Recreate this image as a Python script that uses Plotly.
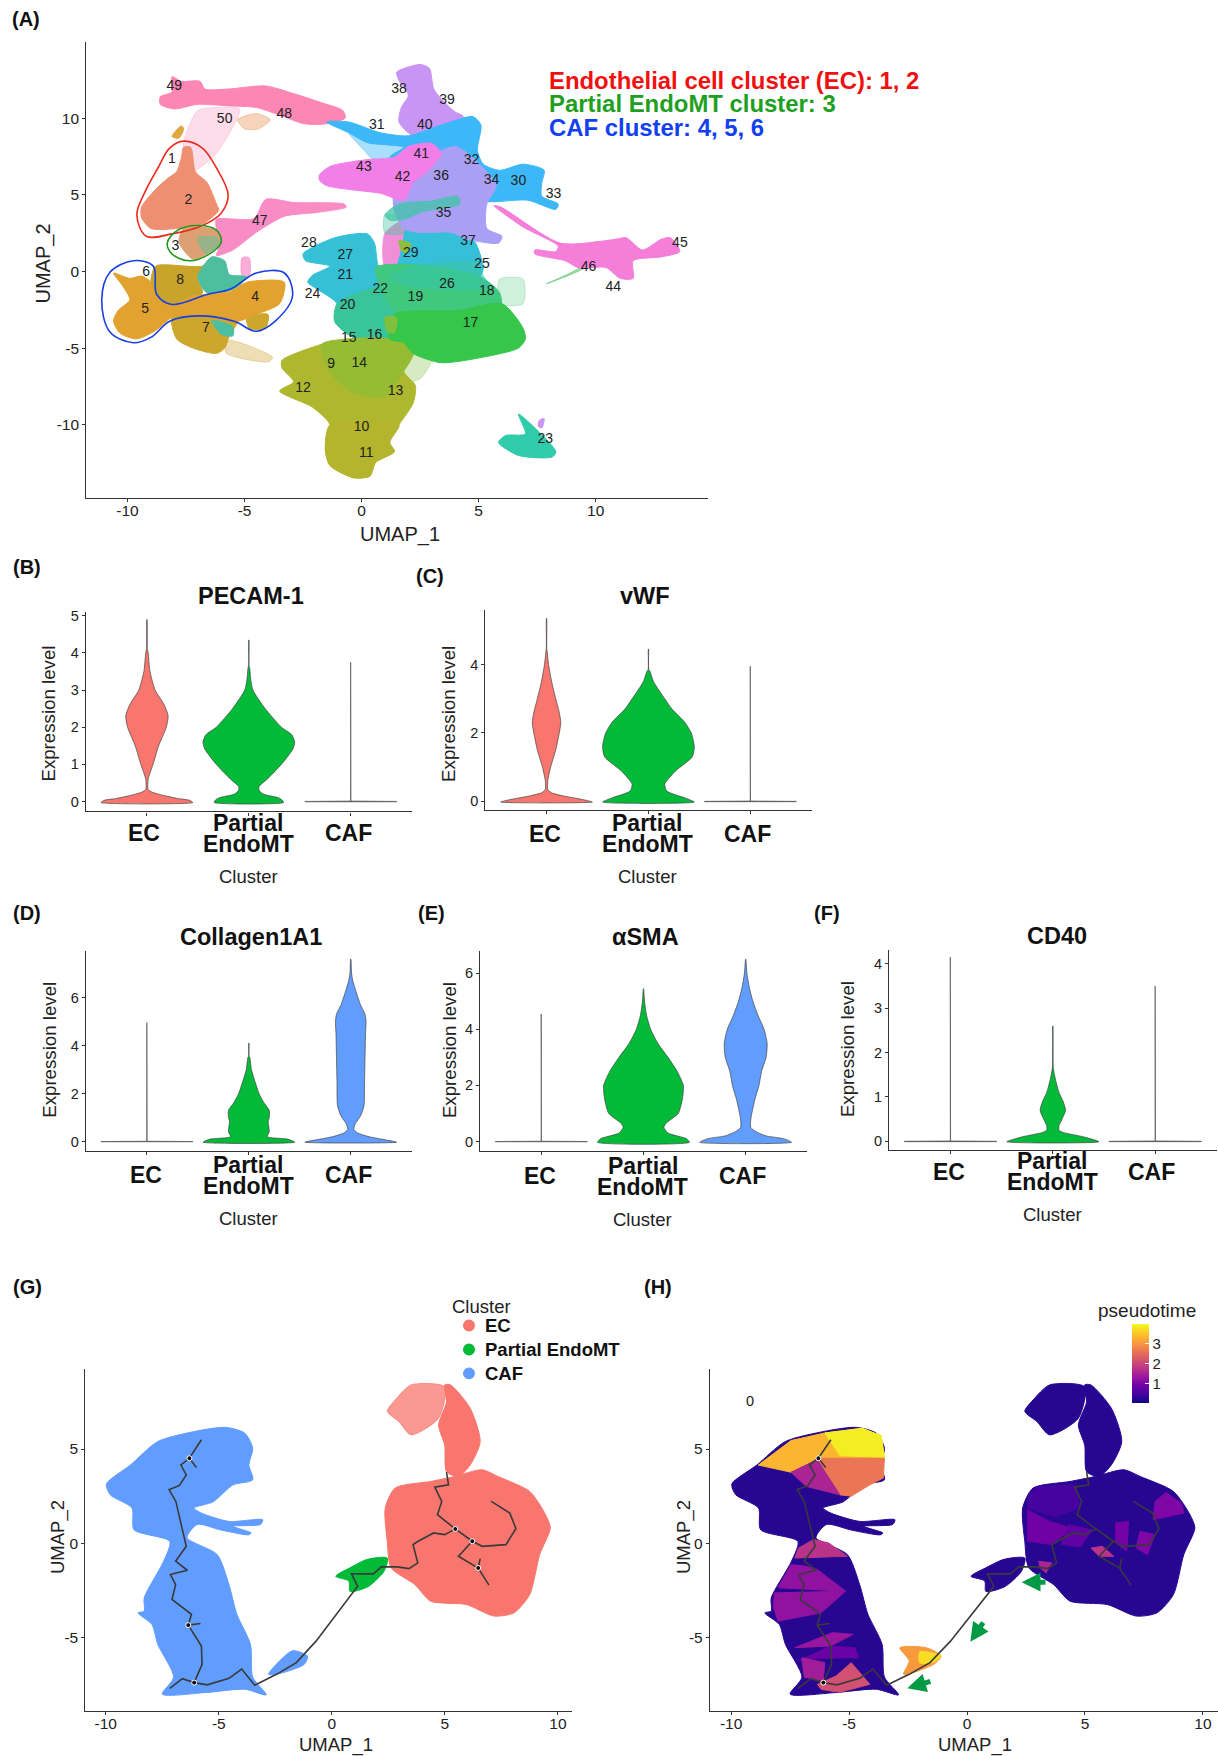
import plotly.graph_objects as go
from plotly.colors import sample_colorscale

W, H = 1218, 1756
FONT = "Liberation Sans"
DY = -2.5

# ---------- Panel A: cluster outlines in UMAP units ----------
a_pink_haze = [(-7.6,8.4),(-7.0,10.5),(-6,10.7),(-5.2,10.6),(-6.2,7.7),(-7.2,6.5),(-7.5,6.5)]
a_gold_haze = [(-5.3,9.9),(-4.5,10.3),(-3.9,9.9),(-4.4,9.3),(-5,9.3)]
a_gold_spot = [(-8.1,8.8),(-7.7,9.5),(-7.6,9.3),(-7.8,8.7)]
a_pink_top = [(-8.1,12.7),(-7.7,12.4),(-6.9,12.4),(-6.7,11.9),(-5.7,11.9),(-4.1,12.1),(-2.9,11.6),(-1.7,11.0),(-0.8,10.5),(-0.7,10.0),(-1.7,9.6),(-2.5,9.65),(-3.5,10.2),(-4.5,10.7),(-5.65,10.8),(-7.0,10.9),(-8.0,10.6),(-8.6,10.9),(-8.6,11.4),(-8.1,11.7)]
a_salmon = [(-7.6,8.1),(-7.3,8.1),(-7.1,6.5),(-6.6,5.8),(-6.2,4.4),(-6.1,4.0),(-6.8,3.1),(-7.9,2.8),(-9.0,2.8),(-9.4,3.5),(-9.4,4.2),(-8.8,5.35),(-8.3,6.05),(-7.9,6.5),(-7.7,7.4)]
a_pink47 = [(-6.2,3.4),(-4.6,3.45),(-4.1,4.7),(-2.9,4.5),(-0.75,4.4),(-0.65,4.2),(-1.9,3.85),(-3.3,3.6),(-4.5,2.55),(-5.5,1.4),(-6.2,1.05),(-6.0,1.9),(-6.2,2.8)]
a_pink47_tail = [(-5.1,0.9),(-4.8,0.9),(-4.8,-0.3),(-5.1,-0.3)]
a_c3 = [(-7.6,2.8),(-6.2,2.7),(-6.0,1.9),(-6.6,1.15),(-7.2,0.8),(-7.8,1.9)]
a_c3_teal = [(-7,2.2),(-6.15,2.2),(-6.1,1.7),(-6.7,1.2)]
a_c8 = [(-8.8,0.35),(-6.8,0.35),(-6.4,0.9),(-7,-0.45),(-6.8,-1.4),(-8.2,-2.2),(-8.8,-1.6),(-9,-0.7)]
a_c8_teal = [(-7,-0.35),(-6.4,0.95),(-5.85,0.7),(-5.65,-0.2),(-4.9,-0.35),(-5.45,-1.15),(-6.6,-1.4)]
a_c7 = [(-8.1,-3.0),(-6.8,-2.8),(-5.3,-3.2),(-5.65,-4.2),(-5.85,-5),(-6.2,-5.35),(-7.2,-5),(-7.9,-4.4)]
a_c7_teal = [(-6.4,-3.2),(-5.5,-3.6),(-5.5,-4.2),(-6.0,-4.1)]
a_c7_spot = [(-4.9,-3.0),(-4.0,-2.8),(-4.1,-3.7),(-4.8,-3.7)]
a_c7_haze = [(-5.7,-4.5),(-3.8,-5.6),(-4,-5.9),(-5.8,-5.3)]
a_c54 = [(-10.6,-0.1),(-9.9,-0.45),(-9.4,-0.3),(-9.0,-0.7),(-8.8,-1.6),(-8.2,-2.2),(-7.2,-1.6),(-5.6,-1.3),(-4.9,-0.7),(-3.3,-0.7),(-3.5,-2.1),(-4.5,-2.8),(-5.3,-3.25),(-6.8,-2.9),(-8,-2.9),(-8.8,-3.85),(-9.6,-4.4),(-10.3,-4.05),(-10.6,-3.25),(-10.4,-2.55),(-9.9,-1.85),(-10.2,-0.95)]
a_blue_haze = [(-0.55,9.05),(0.25,8.5),(1.8,8.1),(1.2,7.4),(0.6,7.2),(0.05,8.0)]
a_blue = [(-1.5,9.75),(-0.55,9.75),(0.8,9.05),(2,8.85),(3.4,9.55),(4.75,10.1),(5.1,9.55),(4.95,7.9),(5.2,7),(5.9,6.6),(6.9,7),(7.8,6.6),(7.7,5.8),(7.7,4.9),(8.4,4.4),(8.3,4.05),(7.1,4.65),(5.7,4.55),(4.15,4.55),(2.2,4.9),(1.2,5.8),(1.2,7.45),(1.8,8.1),(0.25,8.4),(-0.55,9.05)]
a_purple_top = [(1.5,13),(2.5,13.5),(2.9,13.25),(3.1,11.85),(3.95,10.45),(4.35,10.1),(3.4,8.95),(2.2,8.85),(1.6,9.75),(1.7,10.7),(2,11.5),(1.6,12.45)]
a_magenta = [(-1.8,6.3),(-1.35,6.85),(0.25,7.3),(1.4,7.45),(2,8.15),(3,8.35),(3.4,7.7),(2.8,6.5),(2.2,5.8),(1.8,4.65),(0.8,5.1),(-0.55,5.35),(-1.5,5.6),(-1.8,5.95)]
a_lavender = [(2.4,7),(4,8.15),(5.2,6.75),(5.75,5.6),(5.35,4.4),(5.35,2.8),(6,2.3),(5.85,1.85),(4.55,2.1),(3.8,2.55),(2.4,2.55),(1.8,2.8),(1.4,3.95),(1.4,5.35)]
a_teal35 = [(1,3.7),(1.6,4.4),(3,4.6),(4.1,4.9),(4.2,4.4),(2.6,3.9),(1.8,3.4),(1.2,3.35)]
a_teal_gap = [(1,3.7),(1.8,3.4),(1.8,2.5),(1,2.5)]
a_pink45 = [(5.65,4.3),(5.95,4.2),(8.5,1.85),(10.85,2.1),(11.3,2.2),(12,1.4),(12.8,2.1),(13.2,2.2),(13.6,1.3),(12.8,0.95),(11.6,0.7),(11.6,-0.45),(11.05,-0.45),(10.45,0.25),(9.25,0.25),(8.7,0.7),(7.4,1.15),(7.4,1.4),(8.3,1.3),(8.4,1.65),(6.9,2.9)]
a_green_thin = [(7.9,-0.8),(9.9,0.55),(10.3,1.9),(9.9,1.9),(9.4,0.35)]
a_cyan29 = [(1.4,2.55),(3.8,2.55),(4.8,2.0),(5.2,0.2),(5.05,-0.45),(4.95,-1.6),(2.2,-0.45),(1.6,0.1),(1.5,1.0)]
a_pink29 = [(1,2.5),(1.9,3.4),(1.8,2.5),(1.4,0.2),(1,0.2)]
a_olive29 = [(1.6,2),(2.1,1.8),(1.9,1.2),(1.7,1.4)]
a_cyan27 = [(-2.5,1.15),(-1.15,2.2),(0.25,2.45),(0.55,1.85),(0.75,0.25),(1.2,0.2),(1.2,-0.95),(0.8,-2.55),(1,-4.4),(-0.35,-4.3),(-1.15,-3.25),(-1.05,-2.1),(-1.9,-1.15),(-2.3,-0.7),(-2.1,-0.25),(-1.35,0.35),(-2.4,0.7)]
a_teal20 = [(-1.05,-2.1),(0.0,-1.3),(1.2,-0.95),(2.2,-2.1),(1.4,-4.4),(-0.35,-4.3),(-1.15,-3.25)]
a_green19 = [(0.6,0.25),(2.2,0.45),(4.95,-0.25),(5.9,-1.4),(5.9,-2.8),(1.6,-2.8),(1,-1.6)]
a_teal_band = [(1.2,-0.4),(2.2,0.3),(4.9,0.6),(5.2,-0.3),(5.5,-1.0),(2.2,-1.0)]
a_green_haze = [(5.9,-0.5),(6.9,-0.5),(6.9,-2.1),(5.9,-2.1)]
a_green_haze2 = [(2.2,-5.3),(3,-5.7),(2.5,-7),(1.8,-7.2),(1.8,-6)]
a_green17 = [(1.4,-2.8),(4.15,-2.55),(6,-2.1),(6.9,-3.7),(7,-4.4),(6.7,-5),(5.15,-5.6),(3.4,-5.95),(2.2,-5.35),(1.8,-4.65),(1.2,-4.4)]
a_olive17 = [(1,-3),(1.5,-3),(1.4,-4),(1.1,-3.9)]
a_olive = [(-3.4,-5.8),(-1.7,-4.75),(-0.55,-4.4),(1.6,-4.5),(2.2,-5.35),(1.8,-6.5),(2.3,-7.45),(2.2,-8.6),(1.6,-10),(1.2,-11.15),(1.4,-11.75),(0.6,-12.45),(0.35,-13.35),(-0.35,-13.45),(-1.35,-12.65),(-1.55,-11.6),(-1.35,-10),(-2.1,-8.85),(-3.5,-7.8),(-2.9,-7.2),(-3.4,-6.3)]
a_olive_up = [(-1.7,-4.75),(-0.55,-4.4),(1.6,-4.5),(2.2,-5.35),(1.8,-6.5),(1,-8.15),(-0.35,-7.9),(-1.4,-6.5)]
a_olive_low = [(-1.35,-10),(1.6,-10),(1.2,-11.15),(1.4,-11.75),(0.6,-12.45),(0.35,-13.35),(-0.35,-13.45),(-1.35,-12.65),(-1.55,-11.6)]
a_teal23 = [(6.7,-9.3),(7.5,-10.35),(8.3,-11.75),(8.15,-12.1),(6.7,-12),(5.85,-11.15),(6.15,-10.7),(7,-10.6)]
a_purple23 = [(7.6,-9.7),(7.8,-9.6),(7.7,-10.2),(7.55,-10.1)]

a_red_ring = [(-7.6,8.5),(-6.8,8.05),(-6.2,6.75),(-5.7,5),(-6,3.8),(-6.8,3),(-8.1,2.45),(-9.2,2.3),(-9.6,3.7),(-9.2,5.35),(-8.7,6.75),(-8.2,8.05),(-7.6,8.5)]
a_green_ring = [(-7,3),(-6.2,2.7),(-6,1.9),(-6.6,1.05),(-7.4,0.7),(-8.1,1.15),(-8.3,1.85),(-7.9,2.65),(-7,3)]
a_blue_ring = [(-9.75,0.7),(-8.9,0.35),(-8.75,-1.5),(-8.1,-2.15),(-6.6,-1.5),(-5.6,-1.15),(-4.5,-0.1),(-3.3,-0.1),(-2.95,-1.6),(-3.7,-3.25),(-4.5,-3.9),(-5.45,-3.25),(-7,-2.9),(-8.2,-3.25),(-9,-4.3),(-9.75,-4.65),(-10.75,-3.95),(-11.1,-1.85),(-10.75,-0.05),(-9.75,0.7)]

cluster_ids = [49,50,48,1,2,3,6,8,5,4,7,47,43,41,42,36,32,34,30,33,31,40,38,39,35,28,27,21,29,37,25,18,26,22,19,24,20,17,15,16,9,14,12,13,10,11,23,46,44,45]
cluster_x = [-8,-5.85,-3.3,-8.1,-7.4,-7.95,-9.2,-7.75,-9.25,-4.55,-6.65,-4.35,0.1,2.55,1.75,3.4,4.7,5.55,6.7,8.2,0.65,2.7,1.6,3.65,3.5,-2.25,-0.7,-0.7,2.1,4.55,5.15,5.35,3.65,0.8,2.3,-2.1,-0.6,4.65,-0.55,0.55,-1.3,-0.1,-2.5,1.45,0,0.2,7.85,9.7,10.75,13.6]
cluster_y = [12.05,9.9,10.25,7.3,4.6,1.65,-0.1,-0.6,-2.5,-1.7,-3.7,3.25,6.8,7.6,6.1,6.2,7.25,5.95,5.9,5.05,9.5,9.55,11.85,11.15,3.8,1.8,1.05,-0.25,1.15,1.95,0.45,-1.3,-0.85,-1.2,-1.7,-1.5,-2.25,-3.4,-4.35,-4.15,-6.05,-6,-7.65,-7.85,-10.2,-11.9,-10.95,0.25,-1.05,1.8]

a_regions = [
    (a_pink_haze,"rgba(251,170,200,0.4)"),(a_gold_haze,"rgba(235,170,120,0.5)"),(a_gold_spot,"#E0A840"),
    (a_pink_top,"#FC86B4"),(a_pink47,"#F98CC4"),(a_pink47_tail,"rgba(248,140,200,0.7)"),
    (a_salmon,"#EE8F72"),(a_c3,"#DDA072"),(a_c3_teal,"rgba(110,190,150,0.6)"),
    (a_c7_haze,"rgba(215,170,70,0.4)"),(a_c7,"#CDA62C"),(a_c7_teal,"#4DBFA0"),(a_c7_spot,"#CDA62C"),
    (a_c8,"#C8A52A"),(a_c8_teal,"#4DBE9E"),(a_c54,"#E2A22F"),
    (a_blue_haze,"rgba(60,184,248,0.45)"),(a_purple_top,"#C895F5"),(a_blue,"#3CB8F8"),
    (a_cyan27,"#35C0D5"),(a_teal20,"#3AC49A"),(a_cyan29,"#35BFD8"),(a_pink29,"#F08FD8"),(a_olive29,"#8FBE3C"),
    (a_green_haze,"rgba(64,200,110,0.25)"),(a_green_haze2,"rgba(120,190,60,0.3)"),
    (a_green19,"#40C87E"),(a_teal_band,"rgba(56,196,168,0.6)"),(a_olive,"#AEB82E"),(a_olive_up,"#96BC33"),(a_olive_low,"#B4B52C"),
    (a_green17,"#35C64A"),(a_olive17,"#7FC03C"),
    (a_teal_gap,"rgba(64,197,165,0.4)"),(a_lavender,"#A9A0F6"),(a_teal35,"rgba(64,197,165,0.75)"),(a_magenta,"#F27FE8"),
    (a_green_thin,"rgba(70,190,90,0.5)"),(a_pink45,"#F47ED8"),(a_teal23,"#30CBAA"),(a_purple23,"#C895F5"),
]

# ---------- Violins: expression level and half-width (in category units) ----------
pecam_ec_y = [-0.03,0.03,0.08,0.15,0.25,0.32,0.6,1,1.5,2,2.3,2.6,3,3.5,4,4.1,4.9]
pecam_ec_w = [0.45,0.42,0.3,0.18,0.05,0.012,0.012,0.06,0.115,0.19,0.208,0.17,0.08,0.03,0.012,0.004,0.001]
pecam_pe_y = [-0.03,0.03,0.1,0.2,0.3,0.4,0.6,1,1.4,1.6,1.8,2,2.5,3,3.3,3.6,3.65,4.35]
pecam_pe_w = [0.34,0.33,0.29,0.14,0.1,0.1,0.18,0.32,0.43,0.45,0.42,0.32,0.16,0.04,0.018,0.008,0.002,0.001]
pecam_caf_y = [-0.01,0.0,0.01,3.75]
pecam_caf_w = [0.45,0.45,0.001,0.001]
vwf_ec_y = [-0.02,0.05,0.15,0.25,0.35,0.6,1,1.5,2,2.3,2.6,3,3.5,4,4.4,4.45,5.35]
vwf_ec_w = [0.45,0.36,0.18,0.05,0.012,0.012,0.04,0.09,0.125,0.14,0.125,0.09,0.05,0.02,0.005,0.002,0.001]
vwf_pe_y = [-0.02,0.1,0.3,0.5,0.6,0.9,1.3,1.6,2,2.3,2.4,2.7,3,3.5,3.8,3.85,4.45]
vwf_pe_w = [0.45,0.36,0.18,0.16,0.18,0.27,0.43,0.45,0.42,0.36,0.33,0.23,0.16,0.05,0.015,0.003,0.001]
vwf_caf_y = [-0.01,0.0,0.01,3.95]
vwf_caf_w = [0.45,0.45,0.001,0.001]
col_ec_y = [-0.01,0.0,0.01,4.95]
col_ec_w = [0.45,0.45,0.001,0.001]
col_pe_y = [-0.03,0.1,0.2,0.4,0.85,1,1.3,1.6,2,2.5,3,3.5,3.55,4.1]
col_pe_w = [0.45,0.38,0.18,0.2,0.19,0.2,0.2,0.15,0.1,0.06,0.025,0.01,0.003,0.001]
col_caf_y = [-0.03,0.1,0.2,0.35,0.5,0.7,1.1,1.5,2.5,3.5,4.5,5,5.3,5.7,6.2,6.7,7,7.6]
col_caf_w = [0.45,0.3,0.18,0.07,0.03,0.04,0.1,0.13,0.135,0.14,0.145,0.15,0.14,0.095,0.055,0.02,0.008,0.001]
sma_ec_y = [-0.01,0.0,0.01,4.55]
sma_ec_w = [0.45,0.45,0.001,0.001]
sma_pe_y = [-0.03,0.1,0.3,0.5,0.65,1,1.5,2,2.5,3,3.5,4,4.5,5,5.45]
sma_pe_w = [0.45,0.42,0.24,0.2,0.22,0.34,0.38,0.39,0.33,0.24,0.14,0.07,0.03,0.01,0.001]
sma_caf_y = [-0.03,0.1,0.2,0.35,0.5,0.8,1,1.5,2,2.5,3,3.5,4,4.5,5,5.5,6,6.5]
sma_caf_w = [0.45,0.37,0.2,0.1,0.05,0.05,0.06,0.09,0.13,0.155,0.2,0.21,0.18,0.12,0.07,0.035,0.012,0.001]
cd40_ec_y = [-0.008,0.0,0.008,0.65,0.66,1.55,1.56,4.15]
cd40_ec_w = [0.45,0.45,0.0012,0.0012,0.003,0.003,0.0012,0.0012]
cd40_pe_y = [-0.01,0.1,0.2,0.25,0.35,0.5,0.7,0.9,1.1,1.4,1.65,2.2,2.6]
cd40_pe_w = [0.45,0.3,0.1,0.06,0.06,0.09,0.124,0.1,0.06,0.025,0.005,0.002,0.001]
cd40_caf_y = [-0.008,0.0,0.008,3.5]
cd40_caf_w = [0.45,0.45,0.001,0.001]

EC_COLOR, PE_COLOR, CAF_COLOR = "#F8766D", "#00BA38", "#619CFF"
categories = ["EC", "Partial", "EndoMT", "CAF"]

# ---------- Panels G, H: trajectory UMAP ----------
g_caf = [(-9.97,3.14),(-8.9,4.16),(-7.7,5.4),(-5.95,5.96),(-4.7,6.15),(-3.85,5.84),(-3.5,5.04),(-3.67,4.16),(-3.5,3.37),(-4.37,3.1),(-5.25,2.2),(-6.1,1.87),(-5.77,1.6),(-4.55,1.16),(-3.06,1.25),(-3.15,1),(-4.37,0.9),(-3.57,0.55),(-3.67,0.45),(-4.9,0.7),(-5.95,1),(-6.4,0.3),(-5.07,-0.6),(-4.55,-2.2),(-4.2,-3.77),(-3.6,-5.36),(-3.5,-7.1),(-2.9,-8.04),(-3.85,-7.74),(-5.6,-7.92),(-7.5,-8),(-7,-7.1),(-7.7,-5.36),(-7.96,-4.3),(-8.57,-3.69),(-8.3,-3.6),(-8.3,-2.9),(-7.44,-0.95),(-7.17,0.1),(-8.75,0.72),(-8.84,1.87),(-9.8,2.57)]
g_caf_tail = [(-2.8,-6.95),(-1.75,-5.7),(-1.08,-5.98),(-1.22,-6.42),(-2.45,-6.95)]
g_ec_main = [(2.36,1.87),(2.8,2.93),(4.37,3.28),(5.42,3.54),(6.65,3.9),(7.35,3.54),(8.75,2.75),(9.45,1.52),(9.66,0.81),(9.19,-0.6),(8.75,-2.72),(8.05,-3.69),(7.17,-3.86),(5.95,-3.25),(4.37,-3.07),(3.67,-2.19),(2.62,-1.3),(2.45,0.1)]
g_ec_neck = [(5.07,3.8),(4.99,5.2),(4.72,6.28),(5.07,7.5),(4.99,8.4),(5.25,8.4),(6.12,7.16),(6.56,5.4),(6.12,4.16),(5.6,3.54)]
g_ec_top = [(2.45,7),(2.8,7.6),(3.5,8.4),(4.99,8.3),(4.72,6.63),(3.5,5.75),(2.97,6.45)]
g_pe = [(0.17,-1.75),(0.8,-1.3),(1.57,-0.85),(2.45,-0.78),(2.3,-1.5),(1.6,-2.3),(0.8,-2.55),(0.75,-2.0)]

traj_main = [(-5.77,5.49),(-6.3,4.51),(-6.68,4.16),(-6.44,3.63),(-6.74,3.07),(-7.2,2.84),(-6.9,2.22),(-6.65,0.99),(-6.44,-0.16),(-6.91,-0.95),(-6.39,-1.43),(-7.14,-1.66),(-6.91,-2.19),(-7.07,-2.98),(-6.21,-3.77),(-6.35,-4.34),(-5.77,-5.45),(-5.74,-6.42),(-6.09,-7.39)]
traj_branch1 = [(-6.3,4.51),(-5.99,4.02)]
traj_branch2 = [(-6.35,-4.34),(-5.81,-4.25)]
traj_long = [(-7.17,-7.69),(-6.61,-7.18),(-6.09,-7.39),(-5.51,-7.51),(-4.55,-7.16),(-3.99,-6.67),(-3.41,-7.53),(-2.45,-6.95),(-1.57,-6.33),(-0.7,-5.19),(1.14,-2.28),(0.87,-1.62),(1.84,-1.62),(2.19,-1.25),(2.89,-1.25),(3.41,-1.34),(3.8,-1.04),(3.59,-0.07),(3.76,0.07),(4.5,0.55),(4.99,0.46),(5.46,0.76),(4.67,1.52),(4.86,2.22),(4.55,2.98),(5.16,3.1),(5.07,3.77)]
traj_branch3 = [(5.46,0.76),(6.21,0.11),(6.65,-0.16),(7.7,-0.07),(8.14,0.78),(7.87,1.6),(7.05,2.22)]
traj_branch4 = [(6.21,0.11),(5.6,-0.69),(6.47,-1.31),(6.95,-2.22)]
traj_branch5 = [(6.47,-1.31),(6.56,-0.81)]
trajectories = [traj_main,traj_branch1,traj_branch2,traj_long,traj_branch3,traj_branch4,traj_branch5]
g_nodes = [(-6.3,4.51),(-6.35,-4.34),(-6.09,-7.39),(5.46,0.76),(6.21,0.11),(6.47,-1.31)]
h_nodes = [(-6.3,4.51),(-6.09,-7.39)]

PT_MAX = 3.95
PT_BASE = 0.2
h_patches = [
    ([(-8.85,4.15),(-7.46,5.45),(-6.03,5.85),(-4.44,6.1),(-3.64,5.7),(-3.5,4.51),(-6.34,4.51),(-7.46,3.77)],3.3),
    ([(-6.03,5.85),(-4.44,6.1),(-3.64,5.7),(-3.5,4.55),(-5.39,4.65)],3.85),
    ([(-6.34,4.51),(-3.5,4.51),(-3.55,3.46),(-4.12,3.1),(-4.91,2.5),(-5.39,2.57),(-6.03,3.81)],2.6),
    ([(-7.46,3.77),(-6.34,4.43),(-6.03,3.81),(-5.39,2.57),(-6.82,3.02)],1.5),
    ([(-7.14,-0.25),(-6.5,0.2),(-5.87,0.02),(-5.07,-0.69),(-7.3,-0.78)],1.7),
    ([(-7.46,-1.13),(-6.9,-1.2),(-6.34,-1.39),(-5.15,-2.54),(-8.01,-2.36)],1.2),
    ([(-8.17,-2.63),(-5.15,-2.54),(-6.18,-3.69),(-8.01,-4.13),(-8.2,-3.42)],1.2),
    ([(-7.3,-5.54),(-5.71,-4.74),(-4.83,-4.83),(-5.79,-5.45)],1.3),
    ([(-7.14,-6.24),(-5.79,-5.45),(-4.75,-5.54),(-4.59,-6.07),(-6.3,-6.1)],0.8),
    ([(-7.0,-6.07),(-6.03,-6.33),(-6.1,-7.3),(-6.9,-7.1)],1.4),
    ([(-6.34,-7.48),(-5.55,-7.04),(-4.91,-6.33),(-4.12,-7.48),(-5.39,-7.9),(-6.18,-7.75)],2.1),
    ([(2.6,2.57),(3.04,3.0),(4.63,3.1),(4.79,1.87),(3.7,1.4),(2.56,1.87)],0.45),
    ([(2.56,1.78),(3.51,1.16),(4.47,0.81),(3.59,-0.07),(2.56,0.11)],0.85),
    ([(7.97,2.22),(8.44,2.7),(9.1,2.1),(9.2,1.6),(7.89,1.25)],1.0),
    ([(5.26,-0.25),(5.74,-0.16),(6.22,-0.69),(5.6,-0.69)],1.7),
    ([(6.3,1.08),(6.85,1.16),(6.77,-0.42),(6.3,0.02)],0.9),
    ([(7.33,0.63),(7.97,0.46),(7.65,-0.6),(7.17,-0.25)],1.0),
    ([(3.04,-0.95),(3.59,-1.04),(3.35,-1.57),(3.1,-1.3)],1.5),
    ([(4.3,1.0),(5.3,0.7),(4.8,-0.2),(4.0,-0.05)],0.7),
]
h_tail = [((-2.85,-5.54),(-1.73,-5.54),(-1.1,-5.98),(-1.41,-6.42),(-2.69,-6.95),(-2.45,-6.24)),3.0]
h_tail_core = [((-2.0,-5.75),(-1.1,-5.98),(-1.41,-6.3),(-2.0,-6.35)),3.7]
pseudotime_ticks = [1, 2, 3]
green_arrows = [((3.39,-2.06),(2.32,-2.06)),((0.73,-4.13),(0.14,-5.22)),((-1.49,-7.3),(-2.53,-7.69))]

# ---------- Build ----------
fig = go.Figure()
layout = {}

def px(x, y):
    return x / W, 1 - (y + DY) / H

def add_axes(i, x0, x1, y0, y1, xr, yr, xticks, yticks, size=14.5, show_x=False):
    s = "" if i == 1 else str(i)
    common = dict(showgrid=False, zeroline=False, showline=True, linecolor="#333333", linewidth=1.2,
                  ticks="outside", ticklen=3, tickwidth=1, tickcolor="#333333",
                  tickfont=dict(family=FONT, size=size, color="#222222"))
    xt = dict(showticklabels=False)
    if show_x:
        xt = dict(showticklabels=True, ticktext=[str(v) for v in xticks], ticklabelstandoff=-5)
    layout["xaxis" + s] = dict(domain=[x0 / W, x1 / W], range=xr, tickvals=xticks, anchor="y" + s, **xt, **common)
    layout["yaxis" + s] = dict(domain=[1 - (y1 + DY) / H, 1 - (y0 + DY) / H], range=yr, tickvals=yticks,
                               ticktext=[str(v) for v in yticks], anchor="x" + s, **common)
    return "x" + s, "y" + s

def poly(pts, color, xa, ya, line=None, lw=1.0, smooth=0.7):
    xs = [p[0] for p in pts]; ys = [p[1] for p in pts]
    ln = dict(color=line or color, width=lw)
    if smooth:
        ln.update(shape="spline", smoothing=smooth)
    fig.add_trace(go.Scatter(x=xs + xs[:1], y=ys + ys[:1], mode="lines", fill="toself", fillcolor=color,
                             line=ln, hoverinfo="skip", showlegend=False, xaxis=xa, yaxis=ya))

annotations = []
def text(s, x, y, size, bold=False, color="#222222", rot=0, anchor="center"):
    fx, fy = px(x, y)
    annotations.append(dict(text=f"<b>{s}</b>" if bold else s, x=fx, y=fy, xref="paper", yref="paper",
                            xanchor=anchor, yanchor="middle", showarrow=False, textangle=rot,
                            font=dict(family=FONT, size=size, color=color)))

# Panel A
xa, ya = add_axes(1, 86.3, 708, 41, 498, [-11.76, 14.8], [-14.8, 14.94], [-10,-5,0,5,10], [-10,-5,0,5,10], 15.5, True)
for pts, c in a_regions:
    poly(pts, c, xa, ya)
for ring, c in [(a_red_ring, "#EE2A1E"), (a_green_ring, "#1E9A1E"), (a_blue_ring, "#1A3FE0")]:
    fig.add_trace(go.Scatter(x=[p[0] for p in ring], y=[p[1] for p in ring], mode="lines",
                             line=dict(color=c, width=1.6, shape="spline", smoothing=1.0),
                             hoverinfo="skip", showlegend=False, xaxis=xa, yaxis=ya))
fig.add_trace(go.Scatter(x=cluster_x, y=cluster_y, text=[str(c) for c in cluster_ids], mode="text",
                         textfont=dict(family=FONT, size=14, color="#222222"), hoverinfo="skip",
                         showlegend=False, xaxis=xa, yaxis=ya))
text("Endothelial cell cluster (EC): 1, 2", 547, 79, 23.9, True, "#F01010", anchor="left")
text("Partial EndoMT cluster: 3", 547, 102.5, 23.9, True, "#1EA01E", anchor="left")
text("CAF cluster: 4, 5, 6", 547, 126.5, 23.9, True, "#1040F0", anchor="left")
text("UMAP_1", 400, 534, 20)
text("UMAP_2", 43.6, 263, 20, rot=-90)

# Violin panels
violin_panels = [
    (2, 85.8, 411.9, 612, 811.8, [-0.27,5.1], [0,1,2,3,4,5], "PECAM-1", 251, 596,
     [(pecam_ec_y,pecam_ec_w),(pecam_pe_y,pecam_pe_w),(pecam_caf_y,pecam_caf_w)],
     [144,248,348], 833, 823.6, 844.6, 876.6, 48.7, 714),
    (3, 485.4, 811.5, 610, 810.5, [-0.257,5.59], [0,2,4], "vWF", 645, 596,
     [(vwf_ec_y,vwf_ec_w),(vwf_pe_y,vwf_pe_w),(vwf_caf_y,vwf_caf_w)],
     [544.7,647.4,747.5], 834, 823.6, 844.6, 876.6, 449, 714),
    (4, 85.8, 411.9, 952, 1152, [-0.39,7.92], [0,2,4,6], "Collagen1A1", 251, 938,
     [(col_ec_y,col_ec_w),(col_pe_y,col_pe_w),(col_caf_y,col_caf_w)],
     [145.6,248,348], 1176, 1165.7, 1186.8, 1219.5, 48.7, 1051),
    (5, 480, 807, 952, 1152, [-0.335,6.78], [0,2,4,6], "αSMA", 645, 938,
     [(sma_ec_y,sma_ec_w),(sma_pe_y,sma_pe_w),(sma_caf_y,sma_caf_w)],
     [540,642.7,742.7], 1177, 1167, 1188, 1220.6, 449, 1051),
    (6, 889, 1216.7, 950.7, 1151.3, [-0.2,4.31], [0,1,2,3,4], "CD40", 1056.7, 936.7,
     [(cd40_ec_y,cd40_ec_w),(cd40_pe_y,cd40_pe_w),(cd40_caf_y,cd40_caf_w)],
     [949,1052.3,1151.7], 1172.7, 1161.7, 1183.3, 1215.5, 847, 1050),
]
for (i, x0, x1, y0, y1, yr, yt, title, tx, ty, vs, labx, laby, ly1, ly2, cly, ylx, yly) in violin_panels:
    xa, ya = add_axes(i, x0, x1, y0, y1, [0.4, 3.6], yr, [1,2,3], yt)
    for k, ((vy, vw), c) in enumerate(zip(vs, [EC_COLOR, PE_COLOR, CAF_COLOR])):
        cx = k + 1
        pts = [(cx - w, y) for y, w in zip(vy, vw)] + [(cx + w, y) for y, w in reversed(list(zip(vy, vw)))]
        thin = len(vy) <= 8
        poly(pts, "#555555" if thin else c, xa, ya, line="#555555" if thin else "#444444", lw=0.7, smooth=0 if thin else 0.6)
    text(title, tx, ty, 23.5, True, "#111111")
    text(categories[0], labx[0], laby, 23, True, "#111111")
    text(categories[1], labx[1], ly1, 23, True, "#111111")
    text(categories[2], labx[1], ly2, 23, True, "#111111")
    text(categories[3], labx[2], laby, 23, True, "#111111")
    text("Cluster", labx[1], cly, 18.5)
    text("Expression level", ylx, yly, 18.7, rot=-90)

# Panel G
xa, ya = add_axes(7, 85.4, 572, 1370.7, 1713.3, [-10.9, 10.62], [-8.89, 9.24], [-10,-5,0,5,10], [-5,0,5], 15.5, True)
for pts in (g_caf, g_caf_tail):
    poly(pts, CAF_COLOR, xa, ya)
poly(g_ec_top, "rgba(248,118,109,0.75)", xa, ya)
for pts in (g_ec_main, g_ec_neck):
    poly(pts, EC_COLOR, xa, ya)
poly(g_pe, PE_COLOR, xa, ya)

def draw_traj(nodes, xa, ya):
    for seg in trajectories:
        fig.add_trace(go.Scatter(x=[p[0] for p in seg], y=[p[1] for p in seg], mode="lines",
                                 line=dict(color="#3A3A3A", width=1.6), hoverinfo="skip",
                                 showlegend=False, xaxis=xa, yaxis=ya))
    fig.add_trace(go.Scatter(x=[p[0] for p in nodes], y=[p[1] for p in nodes], mode="markers",
                             marker=dict(size=5, color="#111111", line=dict(color="white", width=1)),
                             hoverinfo="skip", showlegend=False, xaxis=xa, yaxis=ya))
draw_traj(g_nodes, xa, ya)
text("UMAP_1", 336, 1747, 18.5)
text("UMAP_2", 58, 1539, 18.5, rot=-90)
text("Cluster", 481, 1308, 18.5)
shapes = []
for name, c, y in zip(["EC","Partial EndoMT","CAF"], [EC_COLOR, PE_COLOR, CAF_COLOR], [1327,1351,1375]):
    text(name, 483, y, 18.5, True, "#111111", anchor="left")
    fx, fy = px(469, y)
    shapes.append(dict(type="circle", xref="paper", yref="paper", x0=fx-6/W, x1=fx+6/W, y0=fy-6/H, y1=fy+6/H,
                       fillcolor=c, line=dict(width=0)))

# Panel H
xa, ya = add_axes(8, 709.9, 1218, 1370.7, 1713.3, [-10.9, 10.64], [-8.89, 9.24], [-10,-5,0,5,10], [-5,0,5], 15.5, True)
def pt_color(v):
    return sample_colorscale("Plasma", [v / PT_MAX])[0]
for pts in (g_caf, g_ec_top, g_ec_main, g_ec_neck, g_pe):
    poly(pts, pt_color(PT_BASE), xa, ya)
for pts, v in (h_tail, h_tail_core):
    poly(list(pts), pt_color(v), xa, ya)
for pts, v in h_patches:
    poly(pts, pt_color(v), xa, ya, smooth=0)
draw_traj(h_nodes, xa, ya)
fig.add_trace(go.Scatter(x=[-9.2], y=[7.48], text=["0"], mode="text",
                         textfont=dict(family=FONT, size=14.5, color="#222222"), hoverinfo="skip",
                         showlegend=False, xaxis=xa, yaxis=ya))
fx, fy = px(1132.4, 1326)
fig.add_trace(go.Scatter(x=[-9.2], y=[7.48], mode="markers", hoverinfo="skip", showlegend=False, xaxis=xa, yaxis=ya,
                         marker=dict(size=1, opacity=0, color=[PT_BASE], colorscale="Plasma", cmin=0, cmax=PT_MAX,
                                     showscale=True,
                                     colorbar=dict(x=fx, xanchor="left", y=fy, yanchor="top", len=79/H, lenmode="fraction",
                                                   thickness=17, thicknessmode="pixels", xpad=0, ypad=0, outlinewidth=0,
                                                   tickvals=pseudotime_ticks, ticks="inside", ticklen=4, tickcolor="white",
                                                   tickfont=dict(family=FONT, size=15, color="#222222")))))
for (a, b) in green_arrows:
    annotations.append(dict(x=b[0], y=b[1], ax=a[0], ay=a[1], xref=xa, yref=ya, axref=xa, ayref=ya, text="",
                            showarrow=True, arrowhead=2, arrowsize=0.75, arrowwidth=5, arrowcolor="#009A44"))
text("UMAP_1", 975, 1747, 18.5)
text("UMAP_2", 684, 1539, 18.5, rot=-90)
text("pseudotime", 1146.7, 1312, 19)

# Panel letters
panel_labels = ["(A)","(B)","(C)","(D)","(E)","(F)","(G)","(H)"]
panel_pos = [(26,18),(26.5,567),(430,576),(26.5,914),(431,914),(827,914),(27,1288),(658,1288)]
for lab, (x, y) in zip(panel_labels, panel_pos):
    text(lab, x, y, 20, True, "#111111")

fig.update_layout(width=W, height=H, margin=dict(l=0, r=0, t=0, b=0), paper_bgcolor="white", plot_bgcolor="white",
                  showlegend=False, annotations=annotations, shapes=shapes,
                  font=dict(family=FONT), **layout)
fig.write_html("out.html", config={"displayModeBar": False},
               post_script="document.body.style.margin='0';document.documentElement.style.overflow='hidden';")
